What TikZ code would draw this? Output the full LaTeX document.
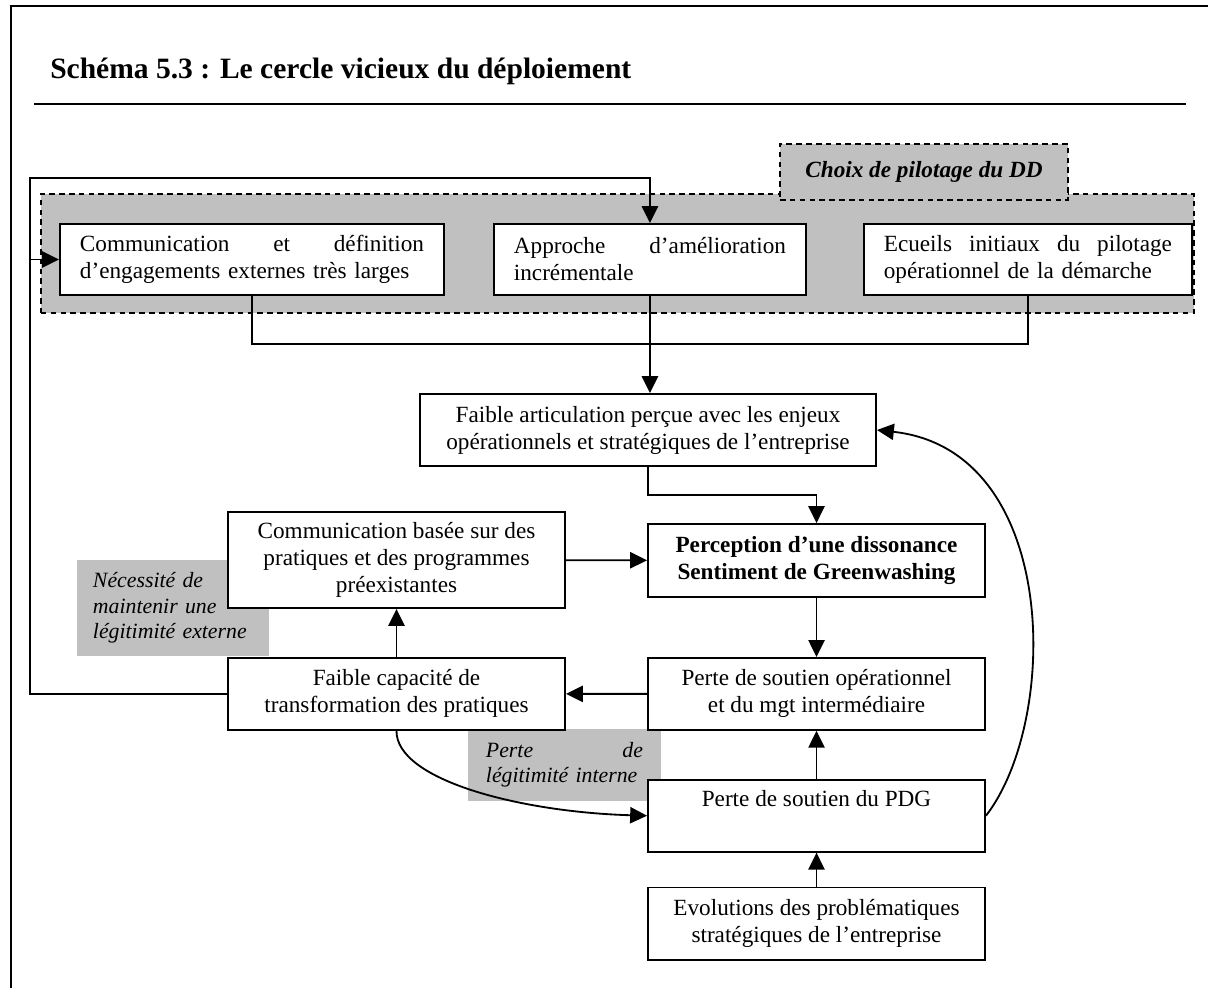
\documentclass[tikz,border=0pt]{standalone}
\usepackage{fontspec}
\setmainfont{Liberation Serif}
\usetikzlibrary{positioning, arrows.meta}
\definecolor{panelgray}{HTML}{C0C0C0}
\hyphenpenalty=10000
\exhyphenpenalty=10000

\begin{document}
\begin{tikzpicture}[
    x=0.025cm, y=0.025cm,
    box/.style={draw, rectangle, line width=1.3pt, fill=white, minimum width=8.425cm, minimum height=1.8cm, align=center, inner xsep=0.5cm, font=\fontsize{16.5}{19.2}\selectfont},
    jbox/.style={box, align=left, minimum width=0pt, minimum height=1.775cm},
    note/.style={fill=panelgray, align=left, font=\fontsize{15.5}{18}\selectfont\itshape},
    arrow/.style={-{Triangle[length=12pt, width=11.5pt]}, line width=1.3pt},
    link/.style={line width=1.3pt}
]
\useasboundingbox (0,0) rectangle (1208,-988);

% Frame and title
\draw[line width=1.3pt] (11,-988) -- (11,-6) -- (1208,-6);
\node[anchor=base west, inner sep=0, font=\fontsize{21}{24}\selectfont\bfseries] (title) at (50,-78) {Schéma 5.3 : Le cercle vicieux du déploiement};
\draw[line width=1.5pt] (34,-104) -- (1186,-104);

% Choix de pilotage
\node[draw, dash pattern=on 4pt off 3pt, line width=1.3pt, fill=panelgray, minimum width=28.825cm, minimum height=2.975cm, inner sep=0] (group) at (617.5,-253.5) {};
\node[draw, dash pattern=on 4pt off 3pt, line width=1.3pt, fill=panelgray, minimum width=7.2cm, minimum height=1.4cm, font=\fontsize{16.5}{18}\selectfont\bfseries\itshape] (tab) at (924,-172) {Choix de pilotage du DD};

\node[jbox, text width=8.6cm] (comext) at (252,-259.5) {Communication\hfill et\hfill définition\\d'engagements externes très larges};
\node[jbox, text width=6.8cm, right=1.2cm of comext] (approche) {Approche\hfill d'amélioration\\incrémentale};
\node[jbox, text width=7.2cm, right=1.4cm of approche] (ecueils) {Ecueils\hfill initiaux\hfill du\hfill pilotage\\opérationnel de la démarche};

% Notes
\node[note, minimum width=4.8cm, minimum height=2.4cm, inner xsep=0.4cm, text width=4cm] (legext) at (173,-608) {Nécessité de\\maintenir une\\légitimité externe};
\node[note, minimum width=4.825cm, minimum height=1.8cm, inner xsep=0.45cm, text width=3.925cm] (legint) at (564.5,-765) {Perte\hfill de\\légitimité interne};

% Cycle
\node[box, minimum width=11.4cm] (articul) at (648,-430) {Faible articulation perçue avec les enjeux\\opérationnels et stratégiques de l'entreprise};
\node[box, minimum height=1.825cm, font=\fontsize{16.5}{19.2}\selectfont\bfseries] (dissonance) at (816.5,-560.5) {Perception d'une dissonance\\Sentiment de Greenwashing};
\node[box, below=1.475cm of dissonance] (soutienop) {Perte de soutien opérationnel\\et du mgt intermédiaire};
\node[box, below=1.2cm of soutienop] (pdg) {Perte de soutien du PDG\\\strut};
\node[box, below=0.85cm of pdg] (evolutions) {Evolutions des problématiques\\stratégiques de l'entreprise};

\node[box, minimum height=2.4cm] (combase) at (396.5,-560) {Communication basée sur des\\pratiques et des programmes\\préexistantes};
\node[box, below=1.2cm of combase] (capacite) {Faible capacité de\\transformation des pratiques};

\coordinate (loop) at (30,-178);
\coordinate (merge) at (648,-344);

% Arrows
\draw[link] (comext.south) |- (merge) -| (ecueils.south);
\draw[arrow] (approche.south) -- (approche.south |- articul.north);
\draw[arrow] (articul.south) -- ++(0,-28) -| (dissonance.north);
\draw[arrow] (combase) -- (dissonance);
\draw[arrow] (dissonance) -- (soutienop);
\draw[arrow] (soutienop) -- (capacite);
\draw[arrow] (capacite) -- (combase);
\draw[arrow] (pdg) -- (soutienop);
\draw[arrow] (evolutions) -- (pdg);

\draw[arrow] (capacite.west) -| (loop) -| (approche.north);
\draw[arrow] (loop |- comext.west) -- (comext.west);

\draw[arrow] (capacite.south) .. controls (396,-780) and (520,-812) .. (pdg.west);
\draw[arrow] (pdg.east) .. controls (1060,-720) and (1060,-450) .. (articul.east);

\end{tikzpicture}
\end{document}
